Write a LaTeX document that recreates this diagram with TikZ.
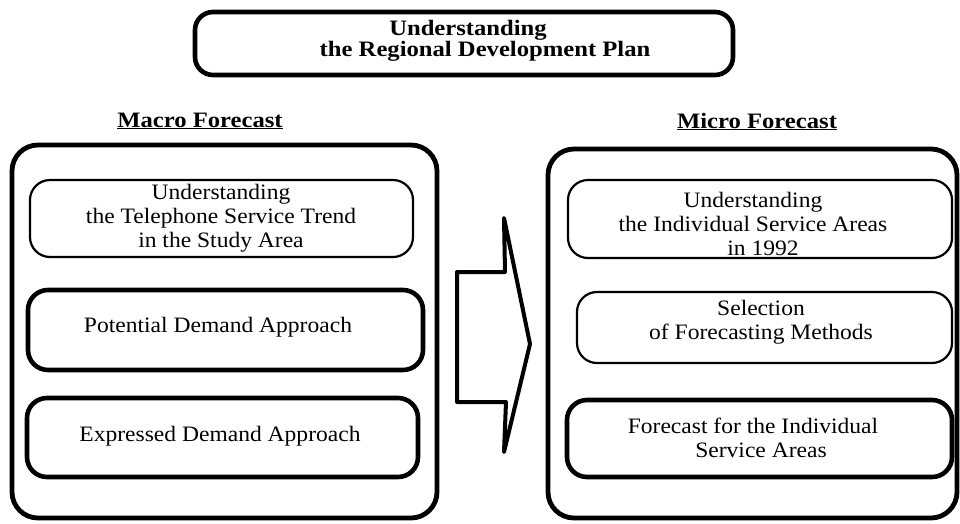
\documentclass[tikz,border=0pt]{standalone}
\usepackage{fontspec}
\setmainfont[FakeStretch=1.07]{Liberation Serif}
\newfontfamily\headfont[FakeStretch=1.12]{Liberation Serif}
\begin{document}
\begin{tikzpicture}[x=1pt,y=-1pt,
  boxbase/.style={draw=black,rounded corners=20pt,inner sep=0pt},
  thinbox/.style={boxbase,line width=2.2pt},
  heavybox/.style={boxbase,line width=4.6pt},
  outerbox/.style={boxbase,line width=4.8pt,rounded corners=26pt},
  txt/.style={font=\fontsize{22}{24}\selectfont,align=center,inner sep=0pt},
  headtxt/.style={font=\headfont\bfseries\fontsize{22}{20}\selectfont,align=center,inner sep=0pt}]
\useasboundingbox (0,0) rectangle (960,523);

% title
\node[heavybox,rounded corners=18pt,minimum width=538pt,minimum height=63pt] (title) at (464,43.5) {};
\node[headtxt] (titletxt) at (485,41) {Understanding\hspace*{34pt}\\the Regional Development Plan};

% section headings
\node[headtxt,anchor=base] (macro) at (200,127) {\underline{Macro Forecast}};
\node[headtxt,anchor=base] (micro) at (757,128) {\underline{Micro Forecast}};

% macro forecast column
\node[outerbox,minimum width=425pt,minimum height=373pt] (macrobox) at (224.5,331.5) {};
\node[thinbox,minimum width=383pt,minimum height=77pt] (trend) at (221.5,218.5) {};
\node[txt] (trendtxt) at (221,218) {Understanding\\the Telephone Service Trend\\in the Study Area};
\node[heavybox,minimum width=395pt,minimum height=80pt] (potential) at (225.5,330) {};
\node[txt,anchor=base] (potentialtxt) at (218,332) {Potential Demand Approach};
\node[heavybox,minimum width=391pt,minimum height=79pt] (expressed) at (222.5,437.5) {};
\node[txt,anchor=base] (expressedtxt) at (220,441) {Expressed Demand Approach};

% micro forecast column
\node[outerbox,minimum width=409pt,minimum height=369pt] (microbox) at (752.5,333.5) {};
\node[thinbox,minimum width=384pt,minimum height=78pt] (areas) at (760,219) {};
\node[txt] (areastxt) at (753,223.5) {Understanding\\the Individual Service Areas\\\hspace*{20pt}in 1992};
\node[thinbox,minimum width=375pt,minimum height=71pt] (methods) at (764.5,327.5) {};
\node[txt] (methodstxt) at (761,322.4) {Selection\\of Forecasting Methods};
\node[heavybox,minimum width=385pt,minimum height=77pt] (forecast) at (759.5,438.5) {};
\node[txt] (forecasttxt) at (753,437.5) {Forecast for the Individual\\\hspace*{16pt}Service Areas};

% block arrow between the columns
\draw[line width=4pt,line join=round]
  (457,272) -- (505,272) -- (504,218) -- (530,344) -- (504,452) -- (506,402) -- (457,402) -- cycle;
\end{tikzpicture}
\end{document}
